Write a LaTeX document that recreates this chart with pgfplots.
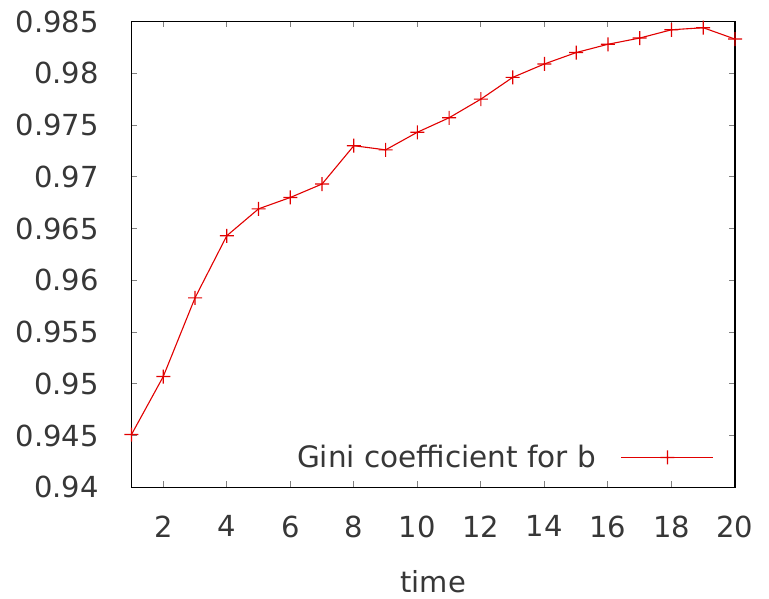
\documentclass[border=0pt]{standalone}
\usepackage{fontspec}
\setmainfont{DejaVu Sans}
\usepackage{pgfplots}
\pgfplotsset{compat=1.18}
\definecolor{gred}{RGB}{225,0,0}
\definecolor{txt}{RGB}{55,55,55}
\pgfdeclareplotmark{rplus}{%
  \pgfsetfillcolor{gred}%
  \pgfpathrectangle{\pgfqpoint{-\pgfplotmarksize}{-0.6bp}}{\pgfqpoint{2\pgfplotmarksize}{1.2bp}}%
  \pgfpathrectangle{\pgfqpoint{-0.6bp}{-\pgfplotmarksize}}{\pgfqpoint{1.2bp}{2\pgfplotmarksize}}%
  \pgfusepathqfill}
\begin{document}
\begin{tikzpicture}
\begin{axis}[name=ax, scale only axis, width=603.5bp, height=465.8bp,
  xmin=1, xmax=20, ymin=0.94, ymax=0.985,
  xtick={2,4,6,8,10,12,14,16,18,20},
  xticklabels={2,4,6,8,10,12,14,16,18,20},
  ytick={0.94,0.945,0.95,0.955,0.96,0.965,0.97,0.975,0.98,0.985},
  yticklabels={0.94,0.945,0.95,0.955,0.96,0.965,0.97,0.975,0.98,0.985},
  tick align=inside, major tick length=6bp,
  major tick style={line width=1bp},
  axis line style={black, line width=1.3bp},
  every tick label/.append style={font=\fontsize{29bp}{34bp}\selectfont, text=txt},
  xticklabel style={anchor=north, inner sep=0pt, yshift=-28bp},
  yticklabel style={anchor=east, inner sep=0pt, xshift=-32.5bp},
  xlabel={time},
  xlabel style={at={(axis description cs:0.5,0)}, anchor=base, inner sep=0pt, yshift=-105bp, font=\fontsize{29bp}{34bp}\selectfont, text=txt},
  clip=false,
  legend plot pos=right,
  legend style={draw=none, fill=none, at={(axis description cs:0.9652,0.064)}, anchor=east,
    inner sep=0pt, outer sep=0pt, column sep=24.7bp, nodes={inner sep=0pt},
    font=\fontsize{29.5bp}{34bp}\selectfont, text=txt},
  legend image code/.code={\draw[mark repeat=2,mark phase=2,#1] plot coordinates {(0bp,0bp) (46bp,0bp) (92bp,0bp)};},
]
\addplot[draw=gred, line width=1.1bp, mark=rplus, mark size=7bp, mark options={solid, fill=gred, draw=none}] coordinates {
(1,0.9451) (2,0.9507) (3,0.9583) (4,0.9643) (5,0.9669) (6,0.9680) (7,0.9693)
(8,0.9730) (9,0.9726) (10,0.9743) (11,0.9757) (12,0.9775) (13,0.9796) (14,0.9809)
(15,0.9820) (16,0.9828) (17,0.9834) (18,0.9842) (19,0.9844) (20,0.9833)
};
\addlegendentry{Gini coefficient for b}
\end{axis}
\path (ax.south west) ++(-131.5bp,-111.7bp) rectangle ++(769bp,599bp);
\end{tikzpicture}
\end{document}
